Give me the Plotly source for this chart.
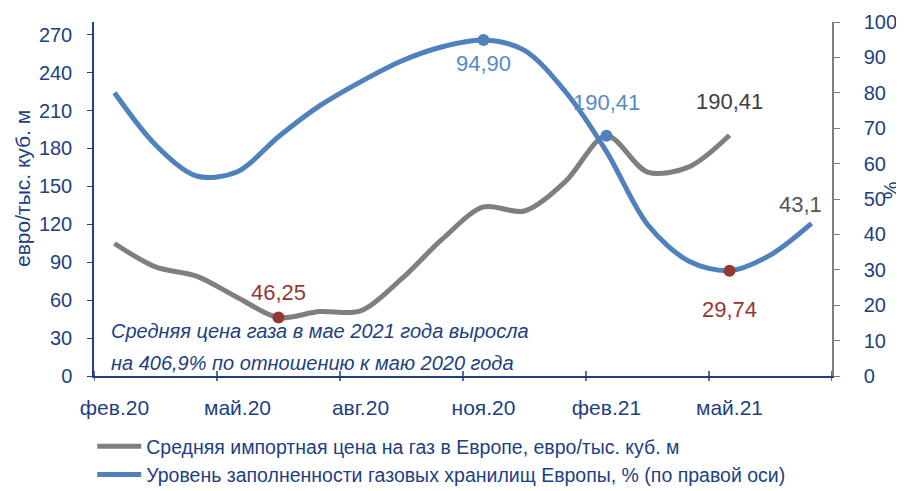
import plotly.graph_objects as go

months = ["фев.20", "мар.20", "апр.20", "май.20", "июн.20", "июл.20", "авг.20", "сен.20", "окт.20",
          "ноя.20", "дек.20", "янв.21", "фев.21", "мар.21", "апр.21", "май.21", "июн.21", "июл.21"]
price = [104.8, 86.3, 79.0, 62.1, 46.25, 51.0, 51.5, 76.8, 108.4, 133.7, 130.5, 153.9, 190.0, 161.3, 165.2, 190.41]
storage = [80.0, 65.3, 56.5, 57.7, 67.6, 76.3, 83.1, 89.0, 93.0, 94.9, 92.0, 80.3, 63.4, 42.8, 32.5, 29.74, 34.2, 43.1]
left_ticks = [0, 30, 60, 90, 120, 150, 180, 210, 240, 270]
right_ticks = [0, 10, 20, 30, 40, 50, 60, 70, 80, 90, 100]
tick_months = months[::3]

name_price = "Средняя импортная цена на газ в Европе, евро/тыс. куб. м"
name_storage = "Уровень заполненности газовых хранилищ Европы, % (по правой оси)"
note_lines = ["Средняя цена газа в мае 2021 года выросла", "на 406,9% по отношению к маю 2020 года"]
left_title = "евро/тыс. куб. м"
right_title = "%"

FONT = "Liberation Sans Narrow, Arial Narrow, Liberation Sans, Arial, sans-serif"
NAVY = "#213F82"
BLUE = "#4F81BD"
GRAY = "#7F7F7F"
RED = "#953735"

fig = go.Figure()
fig.add_trace(go.Scatter(x=months[:len(price)], y=price, name=name_price, mode="lines",
                         line=dict(color=GRAY, width=5, shape="spline", smoothing=0.9), yaxis="y"))
fig.add_trace(go.Scatter(x=months, y=storage, name=name_storage, mode="lines",
                         line=dict(color=BLUE, width=5, shape="spline", smoothing=0.9), yaxis="y2"))

# highlighted points
p_hi = [(4, RED), (12, BLUE)]
s_hi = [(9, BLUE), (15, RED)]
fig.add_trace(go.Scatter(x=[months[i] for i, _ in p_hi], y=[price[i] for i, _ in p_hi], mode="markers",
                         marker=dict(color=[c for _, c in p_hi], size=12), showlegend=False, yaxis="y"))
fig.add_trace(go.Scatter(x=[months[i] for i, _ in s_hi], y=[storage[i] for i, _ in s_hi], mode="markers",
                         marker=dict(color=[c for _, c in s_hi], size=12), showlegend=False, yaxis="y2"))

def fmt(v, d=2):
    return f"{v:.{d}f}".replace(".", ",")

labels = [
    (months[4], price[4], "y", fmt(price[4]), RED, 0, 25),
    (months[12], price[12], "y", "190,41", "#558AC8", 0, 33),
    (months[15], price[15], "y", fmt(price[15]), "#404040", 0, 34),
    (months[9], storage[9], "y2", "94,90", "#558AC8", 0, -23),
    (months[15], storage[15], "y2", fmt(storage[15]), RED, 0, -39),
    (months[17], storage[17], "y2", fmt(storage[17], 1), "#555555", -11, 19),
]
for x, y, yr, t, c, xs, ys in labels:
    fig.add_annotation(x=x, y=y, xref="x", yref=yr, text=t, showarrow=False,
                       font=dict(family=FONT, size=22, color=c), xshift=xs, yshift=ys)

for yy, line in zip([0.127, 0.037], note_lines):
    fig.add_annotation(x=0.021, y=yy, xref="paper", yref="paper", text=line, showarrow=False,
                       xanchor="left", yanchor="middle", align="left",
                       font=dict(family=FONT, size=20, color=NAVY, style="italic"))

# axis titles
fig.add_annotation(x=-0.0976, y=0.531, xref="paper", yref="paper", text=left_title, showarrow=False,
                   textangle=-90, xanchor="center", yanchor="middle",
                   font=dict(family=FONT, size=21, color=NAVY))
fig.add_annotation(x=1.080, y=0.525, xref="paper", yref="paper", text=right_title, showarrow=False,
                   textangle=-90, xanchor="center", yanchor="middle",
                   font=dict(family=FONT, size=20, color=NAVY))

# crossing tick marks on the category boundaries
for b in range(0, len(months) + 1, 3):
    fig.add_shape(type="line", xref="x", yref="paper", x0=b - 0.5, x1=b - 0.5,
                  ysizemode="pixel", yanchor=0, y0=-5, y1=5,
                  line=dict(color=NAVY, width=1.5))

fig.update_layout(
    width=896, height=483,
    margin=dict(l=86, r=72, t=14, b=115, autoexpand=False),
    paper_bgcolor="white", plot_bgcolor="white",
    font=dict(family=FONT, size=20, color=NAVY),
    showlegend=True,
    legend=dict(orientation="v", xref="container", yref="container", x=0.094, y=0.1325,
                xanchor="left", yanchor="top", itemwidth=44,
                font=dict(family=FONT, size=19.5, color=NAVY), tracegroupgap=2,
                bgcolor="rgba(0,0,0,0)"),
    xaxis=dict(type="category", range=[-0.5, len(months) - 0.5], tickvals=tick_months, ticktext=tick_months,
               showline=True, linecolor=NAVY, linewidth=2, ticks="", showgrid=False, zeroline=False,
               automargin=False, ticklabelstandoff=12, tickfont=dict(family=FONT, size=21, color=NAVY)),
    yaxis=dict(range=[0, 280], tickvals=left_ticks, showline=True, linecolor=NAVY, linewidth=1.5,
               ticks="outside", ticklen=5, tickcolor=NAVY, showgrid=False, zeroline=False, automargin=False,
               ticklabelstandoff=11, tickfont=dict(family=FONT, size=20, color=NAVY)),
    yaxis2=dict(range=[0, 100], tickvals=right_ticks, overlaying="y", side="right", showline=True,
                linecolor=GRAY, linewidth=1.5, ticks="outside", ticklen=6, tickcolor=GRAY, showgrid=False,
                zeroline=False, automargin=False, ticklabelstandoff=20,
                tickfont=dict(family=FONT, size=20, color=NAVY)),
)

fig.write_html("out.html")
